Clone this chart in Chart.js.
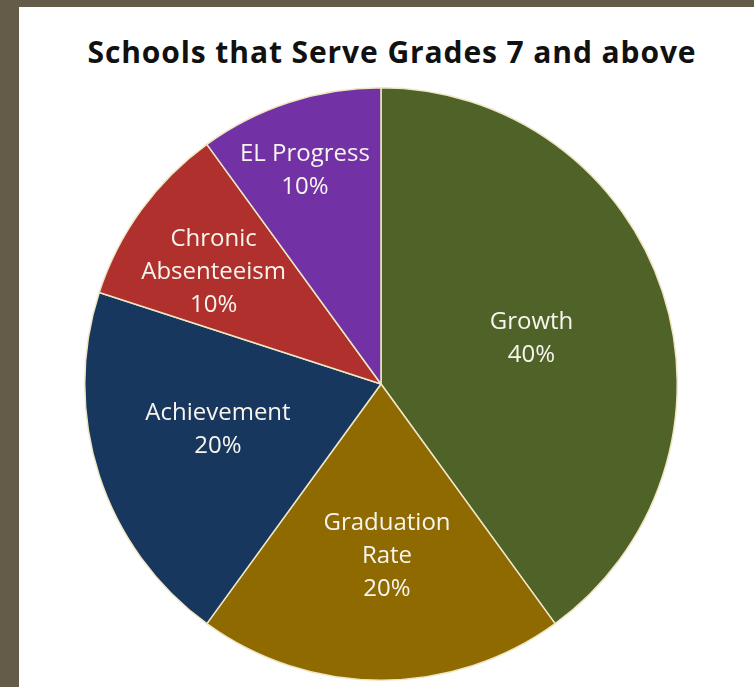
<!DOCTYPE html>
<html>
<head>
<meta charset="utf-8">
<script src="https://cdn.jsdelivr.net/npm/chart.js@4"></script>
<style>
  html, body { margin: 0; padding: 0; }
  body { width: 754px; height: 687px; background: #655b49; position: relative; overflow: hidden; }
  #panel { position: absolute; left: 19px; top: 7px; width: 735px; height: 680px; background: #ffffff; }
  #title { position: absolute; left: 0; top: 26px; width: 746px; text-align: center;
           font-family: "Open Sans", sans-serif; font-weight: bold; font-size: 30px; letter-spacing: 0.9px;
           color: #111; line-height: 38px; }
  #wrap { position: absolute; left: 0; top: 0; width: 735px; height: 680px; }
</style>
</head>
<body>
<div id="panel">
  <div id="title">Schools that Serve Grades 7 and above</div>
  <div id="wrap"><canvas id="myChart"></canvas></div>
</div>
<script>
const categories = [
    ['Growth'],
    ['Graduation', 'Rate'],
    ['Achievement'],
    ['Chronic', 'Absenteeism'],
    ['EL Progress']
];
const weights = [40, 20, 20, 10, 10];
const sliceColors = ['#4f6228', '#8e6a00', '#17375e', '#b0302e', '#7232a6'];

// label spot: share of radius, and a small turn (degrees) off the slice middle
const labelRadius = [0.53, 0.58, 0.572, 0.68, 0.765];
const labelTurn = [1.4, -2, 2.2, -2.2, -1.6];

const sliceLabels = {
    id: 'sliceLabels',
    afterDatasetsDraw(chart) {
        const ctx = chart.ctx;
        const meta = chart.getDatasetMeta(0);
        ctx.save();
        ctx.font = '24px "Open Sans", sans-serif';
        ctx.fillStyle = '#f7f5ee';
        ctx.textAlign = 'center';
        ctx.textBaseline = 'middle';
        meta.data.forEach(function (arc, i) {
            const p = arc.getProps(['x', 'y', 'startAngle', 'endAngle', 'outerRadius'], true);
            const mid = (p.startAngle + p.endAngle) / 2 + labelTurn[i] * Math.PI / 180;
            const d = p.outerRadius * labelRadius[i];
            const cx = p.x + Math.cos(mid) * d;
            const cy = p.y + Math.sin(mid) * d;
            const lines = categories[i].concat([weights[i] + '%']);
            const lh = 33;
            const top = cy - (lines.length - 1) * lh / 2;
            lines.forEach(function (t, j) {
                ctx.fillText(t, cx, top + j * lh);
            });
        });
        ctx.restore();
    }
};

const data = {
    labels: categories.map(c => c.join(' ')),
    datasets: [{
        data: weights,
        backgroundColor: sliceColors,
        borderColor: '#efe7c4',
        borderWidth: 1.5
    }]
};

const config = {
    type: 'pie',
    data: data,
    options: {
        responsive: false,
        animation: false,
        layout: { padding: { top: 80, bottom: 6, left: 0, right: 11 } },
        plugins: {
            legend: { display: false },
            tooltip: { enabled: false },
            title: { display: false }
        }
    },
    plugins: [sliceLabels]
};

const canvas = document.getElementById('myChart');
canvas.width = 735;
canvas.height = 680;
const myChart = new Chart(canvas, config);
</script>
</body>
</html>
